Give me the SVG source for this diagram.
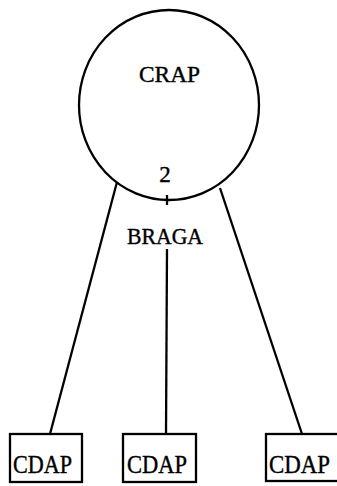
<svg xmlns="http://www.w3.org/2000/svg" width="337" height="486" viewBox="0 0 337 486">
<style>
.s{fill:none;stroke:#000;stroke-width:2.3}
.t{font-family:"Liberation Serif",serif;font-size:23px;fill:#000;stroke:#000;stroke-width:0.4;text-anchor:middle}
.c{font-family:"Liberation Serif",serif;font-size:25px;fill:#000;stroke:#000;stroke-width:0.4}
</style>
<rect width="337" height="486" fill="#fff"/>
<g id="connectors">
<line class="s" x1="117" y1="182" x2="50" y2="434"/>
<line class="s" x1="167" y1="249" x2="166" y2="434"/>
<line class="s" x1="220" y1="188" x2="302" y2="434"/>
<line class="s" x1="167" y1="195" x2="167" y2="205"/>
</g>
<g id="crap">
<ellipse class="s" cx="169" cy="105" rx="90" ry="95"/>
<text class="t" x="169.5" y="82" textLength="61" lengthAdjust="spacingAndGlyphs" font-size="25">CRAP</text>
<text class="t" x="165" y="182" font-size="21">2</text>
</g>
<g id="braga">
<text class="t" x="165" y="244" textLength="76" lengthAdjust="spacingAndGlyphs">BRAGA</text>
</g>
<g id="cdap1">
<rect class="s" x="10" y="434" width="72" height="48"/>
<text class="c" x="13" y="473" textLength="59" lengthAdjust="spacingAndGlyphs">CDAP</text>
</g>
<g id="cdap2">
<rect class="s" x="123" y="434" width="73" height="48"/>
<text class="c" x="127" y="473" textLength="60" lengthAdjust="spacingAndGlyphs">CDAP</text>
</g>
<g id="cdap3">
<rect class="s" x="266" y="434" width="80" height="47"/>
<text class="c" x="269" y="473" textLength="61" lengthAdjust="spacingAndGlyphs">CDAP</text>
</g>
</svg>
